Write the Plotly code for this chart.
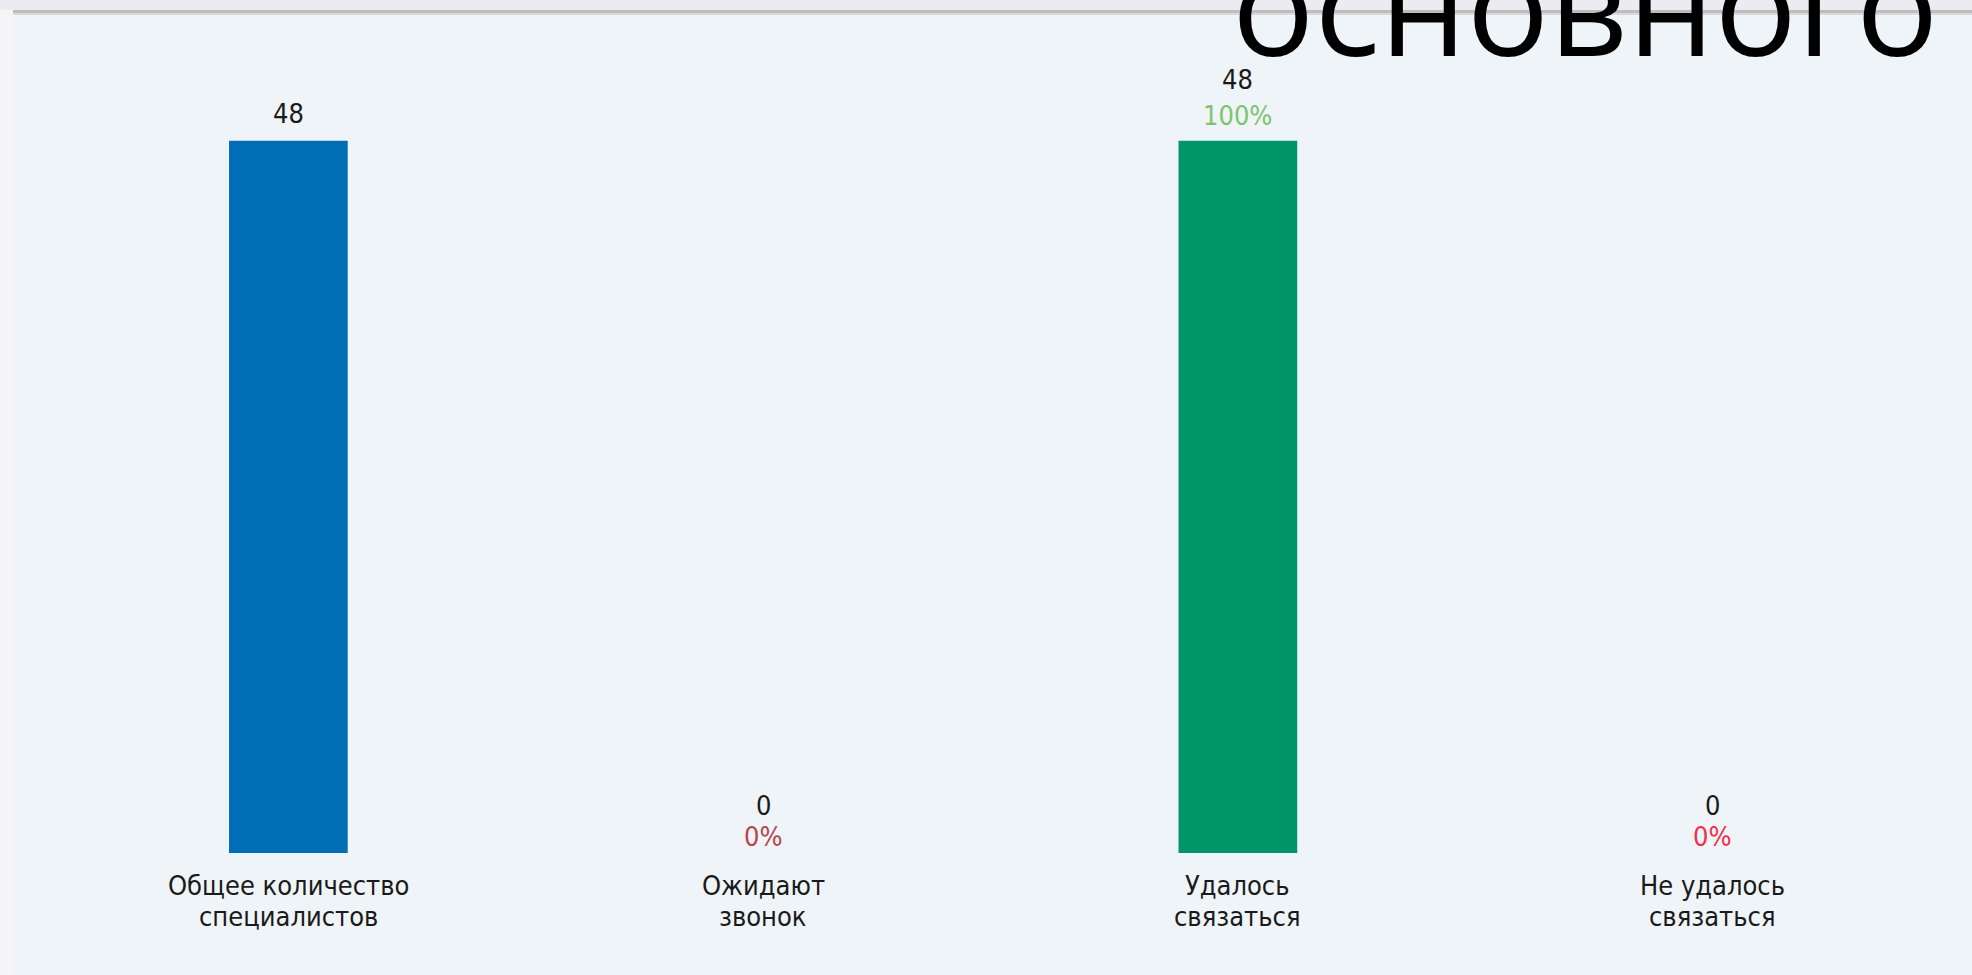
import plotly.graph_objects as go

# ---- data ----
category_line1 = ["Общее количество", "Ожидают", "Удалось", "Не удалось"]
category_line2 = ["специалистов", "звонок", "связаться", "связаться"]
values = [48, 0, 48, 0]
percent_labels = [None, "0%", "100%", "0%"]
bar_colors = ["#006db7", "#006db7", "#009566", "#009566"]
percent_colors = [None, "#b8444e", "#7cc46e", "#f0304a"]
overlay_word = "основного"

W, H = 1972, 975
ML, MR, MT, MB = 51, 22, 37, 122
PW, PH = W - ML - MR, H - MT - MB

FONT = "DejaVu Sans Condensed"
FS = 27
TXT = "#1a1a1a"


def px(x):
    return (x - ML) / PW


def py(y):
    return (H - MB - y) / PH


fig = go.Figure()
fig.add_trace(go.Bar(
    x=list(range(len(values))), y=values, width=0.25,
    marker=dict(color=bar_colors, line=dict(width=0)),
    hoverinfo="skip",
))

# value / percent labels (one annotation per line)
for i, (v, p, c) in enumerate(zip(values, percent_labels, percent_colors)):
    if p is None:
        num_shift, pct_shift = 27, None
    elif v == 0:
        num_shift, pct_shift = 48, 17
    else:
        num_shift, pct_shift = 61, 25
    fig.add_annotation(x=i, y=v, xref="x", yref="y", text=str(v), showarrow=False,
                       yanchor="middle", yshift=num_shift,
                       font=dict(family=FONT, size=FS, color=TXT))
    if p is not None:
        fig.add_annotation(x=i, y=v, xref="x", yref="y", text=p, showarrow=False,
                           yanchor="middle", yshift=pct_shift,
                           font=dict(family=FONT, size=FS, color=c))

# category labels (two lines each, placed under the axis)
for i, (l1, l2) in enumerate(zip(category_line1, category_line2)):
    fig.add_annotation(x=i, y=py(885), xref="x", yref="paper", text=l1, showarrow=False,
                       yanchor="middle", font=dict(family=FONT, size=FS, color=TXT))
    fig.add_annotation(x=i, y=py(916), xref="x", yref="paper", text=l2, showarrow=False,
                       yanchor="middle", font=dict(family=FONT, size=FS, color=TXT))

# overlay word from the slide behind
fig.add_annotation(x=px(1230), y=py(98), xref="paper", yref="paper", text=overlay_word,
                   showarrow=False, xanchor="left", yanchor="bottom",
                   font=dict(family="Open Sans", size=137, color="#000000"))

shapes = [
    dict(type="rect", xref="paper", yref="paper", x0=px(13), x1=px(W), y0=py(H), y1=py(13),
         fillcolor="#eff4f9", line=dict(width=0), layer="below"),
    dict(type="rect", xref="paper", yref="paper", x0=px(0), x1=px(W), y0=py(0), y1=py(10),
         fillcolor="#ebebf2", line=dict(width=0), layer="below"),
    dict(type="rect", xref="paper", yref="paper", x0=px(13), x1=px(W), y0=py(10), y1=py(13),
         fillcolor="#bdbdbd", line=dict(width=0), layer="below"),
    dict(type="rect", xref="paper", yref="paper", x0=px(13), x1=px(W), y0=py(13), y1=py(15),
         fillcolor="#dadada", line=dict(width=0), layer="below"),
]

fig.update_layout(
    width=W, height=H,
    margin=dict(l=ML, r=MR, t=MT, b=MB, pad=0),
    paper_bgcolor="#f5f5f8", plot_bgcolor="rgba(0,0,0,0)",
    showlegend=False, shapes=shapes,
    xaxis=dict(range=[-0.5, 3.5], tickmode="array", tickvals=list(range(len(values))),
               showticklabels=False, showgrid=False, zeroline=False, showline=False, ticks=""),
    yaxis=dict(range=[0, 55], visible=False, showgrid=False, zeroline=False),
)

fig.write_html("out.html")
